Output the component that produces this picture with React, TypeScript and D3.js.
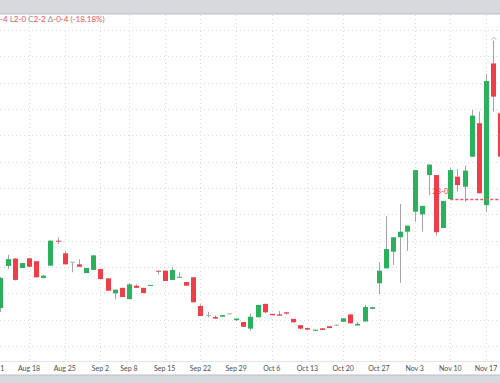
import React, { useEffect } from "react";
import * as d3 from "d3";

// ---- data (trading days Aug 12 .. Nov 19) ----
const firstCandle = "Aug 12";
const open = [
  1.44, 3.04, 3.32, 2.96, 3.33, 3.22, 2.58, 3.05, 4.0, 3.52, 3.18, 3.1, 2.77, 2.89, 2.92, 2.57, 2.0, 2.21, 1.78, 2.29,
  2.21, 2.29, 2.86, 2.86, 2.51, 2.62, 2.43, 2.61, 1.52, 1.15, 1.1, 1.11, 1.22, 0.98, 0.91, 0.66, 1.09, 1.6, 1.22, 1.2,
  1.28, 1.03, 0.79, 0.68, 0.58, 0.67, 0.75, 0.79, 0.92, 1.2, 0.78, 0.93, 1.41, 2.38, 2.95, 3.58, 4.13, 4.34, 5.1, 5.0,
  6.49, 6.49, 4.48, 5.58, 6.43, 6.05, 7.19, 8.46, 5.35, 10.73, 8.84,
];
const high = [
  2.62, 3.46, 3.34, 3.15, 3.34, 3.23, 2.7, 4.01, 4.12, 3.61, 3.18, 3.29, 2.96, 3.46, 2.92, 2.58, 2.14, 2.21, 2.39, 2.34,
  2.21, 2.32, 2.86, 2.87, 2.99, 2.8, 2.43, 2.61, 1.58, 1.3, 1.16, 1.17, 1.24, 1.06, 0.91, 1.24, 1.56, 1.6, 1.22, 1.33,
  1.28, 1.03, 0.79, 0.68, 0.62, 0.67, 0.75, 0.82, 1.05, 1.2, 0.92, 1.56, 1.49, 3.18, 4.94, 4.13, 5.39, 4.57, 6.68, 5.32,
  6.89, 6.49, 5.51, 6.77, 6.71, 6.85, 8.96, 8.9, 10.33, 11.59, 8.85,
];
const low = [
  1.29, 2.92, 2.49, 2.96, 3.0, 2.6, 2.58, 3.05, 3.87, 3.1, 2.8, 3.01, 2.77, 2.89, 2.54, 2.1, 1.77, 1.86, 1.78, 2.21,
  2.01, 2.29, 2.72, 2.47, 2.51, 2.62, 2.29, 1.66, 1.14, 1.09, 1.04, 1.11, 1.2, 0.95, 0.73, 0.58, 1.09, 1.24, 1.17, 1.15,
  1.19, 0.9, 0.62, 0.62, 0.58, 0.61, 0.68, 0.76, 0.92, 0.86, 0.78, 0.93, 1.41, 1.97, 2.95, 3.08, 2.4, 3.61, 4.72, 4.34,
  5.73, 4.19, 4.48, 5.58, 5.86, 5.48, 7.19, 5.8, 5.1, 8.9, 7.18,
];
const close = [
  2.58, 3.3, 2.51, 3.15, 3.01, 2.61, 2.67, 4.0, 3.98, 3.1, 3.18, 3.01, 2.96, 3.44, 2.54, 2.1, 2.14, 1.86, 2.34, 2.21,
  2.01, 2.32, 2.85, 2.47, 2.89, 2.63, 2.29, 1.66, 1.14, 1.15, 1.04, 1.17, 1.22, 1.04, 0.73, 1.11, 1.56, 1.28, 1.17, 1.15,
  1.23, 0.9, 0.66, 0.62, 0.62, 0.61, 0.68, 0.79, 1.05, 0.86, 0.84, 1.48, 1.47, 2.86, 3.68, 4.13, 4.34, 4.57, 6.68, 5.32,
  6.89, 4.32, 5.51, 6.68, 6.11, 6.66, 8.75, 5.8, 10.06, 9.47, 7.19,
];
const tickLabels = [
  "Aug 11", "Aug 18", "Aug 25", "Sep 2", "Sep 8", "Sep 15", "Sep 22", "Sep 29",
  "Oct 6", "Oct 13", "Oct 20", "Oct 27", "Nov 3", "Nov 10", "Nov 17",
];
const gridValues = [0, 1, 2, 3, 4, 5, 6, 7, 8, 9, 10, 11, 12];
const priceLineValue = 5.58;
const priceLineLabel = "28-0";
const priceLineFrom = "Nov 10";
const highMarkDate = "Nov 18";
const legendParts = [
  { t: "-4 ", k: "v" },
  { t: "L", k: "l" },
  { t: "2-0 ", k: "v" },
  { t: "C", k: "l" },
  { t: "2-2 ", k: "v" },
  { t: "Δ", k: "l" },
  { t: "-0-4 (-18.18%)", k: "v" },
];

// ---- calendar (trading days, Labor Day closed) ----
const fmt = d3.timeFormat("%b %-d");
const axisDates = d3.timeDay
  .range(new Date(2025, 7, 11), new Date(2025, 10, 20))
  .filter((d) => d.getDay() !== 0 && d.getDay() !== 6 && !(d.getMonth() === 8 && d.getDate() === 1))
  .map(fmt);

const W = 500;
const H = 383;
const GREEN = "#2bb05c";
const RED = "#ef3e47";
const WICK = "#a3a3a3";
const FONT = "Lato, 'Open Sans', sans-serif";

export default function App() {
  useEffect(() => {
    document.body.style.margin = "0";
  }, []);

  const x = d3
    .scaleLinear()
    .domain([axisDates.indexOf("Aug 18"), axisDates.indexOf("Nov 17")])
    .range([29, 486]);
  const y = d3.scaleLinear().domain([0, 12]).range([346, 30]);
  const offset = axisDates.indexOf(firstCandle);
  const bw = 5;

  const candles = open.map((o, i) => ({
    idx: i + offset,
    o,
    h: high[i],
    l: low[i],
    c: close[i],
  }));

  const hmIdx = axisDates.indexOf(highMarkDate);
  const hmCandle = candles.find((c) => c.idx === hmIdx)!;
  const hmX = x(hmIdx);
  const hmY = y(hmCandle.h);
  const plX = x(axisDates.indexOf(priceLineFrom));
  const plY = Math.round(y(priceLineValue)) + 0.5;

  return (
    <svg width={W} height={H} style={{ position: "absolute", left: 0, top: 0, display: "block" }} fontFamily={FONT}>
      <rect x={0} y={0} width={W} height={H} fill="#ffffff" />
      {/* grid */}
      {gridValues.map((v) => (
        <line key={"h" + v} x1={0} x2={W} y1={Math.round(y(v)) + 0.5} y2={Math.round(y(v)) + 0.5} stroke="#d9dce2" strokeDasharray="1 3" />
      ))}
      {tickLabels.map((t) => {
        const xx = Math.round(x(axisDates.indexOf(t))) + 0.5;
        return <line key={"v" + t} x1={xx} x2={xx} y1={15} y2={362} stroke="#d9dce2" strokeDasharray="1 3" />;
      })}
      {/* candles */}
      {candles.map((d) => {
        const cx = Math.round(x(d.idx));
        const up = d.c > d.o;
        const flat = d.c === d.o;
        const col = flat ? "#b0b0b0" : up ? GREEN : RED;
        const top = y(Math.max(d.o, d.c));
        const bot = y(Math.min(d.o, d.c));
        const bh = Math.max(1, bot - top);
        return (
          <g key={d.idx}>
            <line x1={cx + 0.5} x2={cx + 0.5} y1={y(d.h)} y2={y(d.l)} stroke={WICK} strokeWidth={1} />
            <rect x={cx - 2} y={flat ? top - 0.5 : top} width={bw} height={bh} fill={col} />
          </g>
        );
      })}
      {/* high marker */}
      <path d={`M${hmX - 2},${hmY - 1} Q${hmX + 0.5},${hmY - 5} ${hmX + 3},${hmY - 1}`} fill="none" stroke="#f4a2a7" strokeWidth={1} />
      {/* price line */}
      <line x1={plX} x2={W} y1={plY} y2={plY} stroke="#f25563" strokeWidth={1.6} strokeDasharray="3 2" />
      <text x={plX - 2} y={plY - 7} textAnchor="end" dominantBaseline="middle" fontSize={7.5} fill="#f23645">
        {priceLineLabel}
      </text>
      {/* axis area */}
      <line x1={0} x2={W} y1={361.5} y2={361.5} stroke="#e3e5ea" />
      {tickLabels.map((t) => (
        <text key={"t" + t} x={x(axisDates.indexOf(t))} y={369} textAnchor="middle" dominantBaseline="middle" fontSize={7} fill="#4a4d55">
          {t}
        </text>
      ))}
      {/* legend */}
      <text x={0} y={20} dominantBaseline="middle" fontSize={8}>
        {legendParts.map((p, i) => (
          <tspan key={i} fill={p.k === "v" ? "#f0505a" : "#8a8d95"}>
            {p.t}
          </tspan>
        ))}
      </text>
      {/* frame bands */}
      <rect x={0} y={0} width={W} height={14} fill="#d6d9dd" />
      <line x1={0} x2={W} y1={14} y2={14} stroke="#b9bdc3" />
      <rect x={0} y={375} width={W} height={8} fill="#d6d9dd" />
      <line x1={0} x2={W} y1={375} y2={375} stroke="#b9bdc3" />
    </svg>
  );
}
